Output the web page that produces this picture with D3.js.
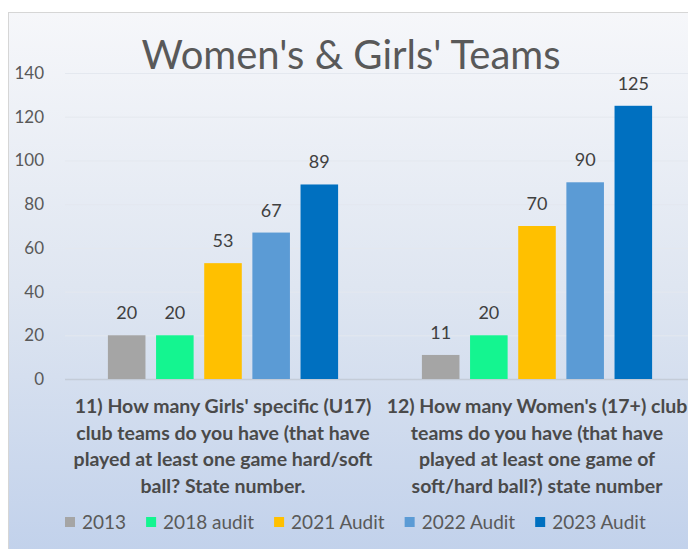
<!DOCTYPE html>
<html>
<head>
<meta charset="utf-8"/>
<title>Women's & Girls' Teams</title>
<script src="https://cdn.jsdelivr.net/npm/d3@7"></script>
<style>
  body{margin:0;background:#fff;}
  svg{display:block;font-family:Lato, "Open Sans", sans-serif;}
</style>
</head>
<body>
<svg id="chart" width="688" height="549"></svg>
<script>
// data
var questions = ["q11", "q12"];
var questionLines = [
  ["11) How many Girls' specific (U17)", "club teams do you have (that have", "played at least one game hard/soft", "ball? State number."],
  ["12) How many Women's (17+) club", "teams do you have (that have", "played at least one game of", "soft/hard ball?) state number"]
];
var seriesNames = ["2013", "2018 audit", "2021 Audit", "2022 Audit", "2023 Audit"];
var girlsU17 = [20, 20, 53, 67, 89];
var women17 = [11, 20, 70, 90, 125];
var seriesColors = ["#a5a5a5", "#14f590", "#ffc000", "#5b9bd5", "#0070c0"];
var yTicks = [0, 20, 40, 60, 80, 100, 120, 140];

var values = [girlsU17, women17];

var svg = d3.select("#chart");

// background panel
var defs = svg.append("defs");
var grad = defs.append("linearGradient").attr("id", "bg").attr("x1", 0).attr("y1", 0).attr("x2", 0).attr("y2", 1);
grad.append("stop").attr("offset", "0%").attr("stop-color", "#f6f7fa");
grad.append("stop").attr("offset", "50%").attr("stop-color", "#dfe6f1");
grad.append("stop").attr("offset", "100%").attr("stop-color", "#c1d1eb");

svg.append("rect").attr("x", 8.5).attr("y", 12.5).attr("width", 700).attr("height", 545)
  .attr("fill", "url(#bg)").attr("stroke", "#d6d6d6");

var x0 = d3.scaleBand().domain(questions).range([66, 694]);
var x1 = d3.scaleBand().domain(seriesNames).range([0, x0.bandwidth()])
  .paddingInner(0.22).paddingOuter(0.87);
var y = d3.scaleLinear().domain([0, 140]).range([379, 73]);

// gridlines
svg.append("g").selectAll("line").data(yTicks).join("line")
  .attr("x1", 65).attr("x2", 688)
  .attr("y1", function(d){ return y(d) + 0.5; }).attr("y2", function(d){ return y(d) + 0.5; })
  .attr("stroke", function(d){ return d == 0 ? "#c4ccd8" : "#e4e8ef"; })
  .attr("stroke-width", function(d){ return d == 0 ? 1.5 : 1; });

// y axis labels
var yAxis = svg.append("g").attr("transform", "translate(44,0)")
  .call(d3.axisLeft(y).tickValues(yTicks).tickSize(0).tickPadding(0));
yAxis.select(".domain").remove();
yAxis.selectAll("text").attr("font-size", 17).attr("fill", "#595959")
  .attr("font-family", "Lato, sans-serif");

// title
svg.append("text").attr("x", 351).attr("y", 69).attr("text-anchor", "middle")
  .attr("font-size", 40).attr("fill", "#595959").text("Women's & Girls' Teams");

// bars
var groups = svg.append("g").selectAll("g").data(questions).join("g")
  .attr("transform", function(d){ return "translate(" + x0(d) + ",0)"; });

groups.selectAll("rect").data(function(d, i){
    return seriesNames.map(function(s, j){ return {s: s, v: values[i][j], c: seriesColors[j]}; });
  }).join("rect")
  .attr("x", function(d){ return x1(d.s); })
  .attr("width", x1.bandwidth())
  .attr("y", function(d){ return y(d.v); })
  .attr("height", function(d){ return y(0) - y(d.v); })
  .attr("fill", function(d){ return d.c; });

groups.selectAll("text.val").data(function(d, i){
    return seriesNames.map(function(s, j){ return {s: s, v: values[i][j]}; });
  }).join("text").attr("class", "val")
  .attr("x", function(d){ return x1(d.s) + x1.bandwidth() / 2; })
  .attr("y", function(d){ return y(d.v) - 16; })
  .attr("text-anchor", "middle").attr("font-size", 18).attr("fill", "#404040")
  .text(function(d){ return d.v; });

// category labels
var catLabels = svg.append("g").selectAll("text").data(questions).join("text")
  .attr("x", function(d){ return x0(d) + x0.bandwidth() / 2; })
  .attr("text-anchor", "middle").attr("font-size", 19.5).attr("font-weight", "bold")
  .attr("fill", "#4a4a4a");
catLabels.selectAll("tspan").data(function(d, i){ return questionLines[i]; }).join("tspan")
  .attr("x", function(){ return d3.select(this.parentNode).attr("x"); })
  .attr("y", function(d, i){ return 413 + i * 26.5; })
  .text(function(d){ return d; });

// legend
var legend = svg.append("g");
var lx = 65;
seriesNames.forEach(function(s, i){
  legend.append("rect").attr("x", lx).attr("y", 517).attr("width", 10).attr("height", 10)
    .attr("fill", seriesColors[i]);
  var t = legend.append("text").attr("x", lx + 17).attr("y", 529)
    .attr("font-size", 19).attr("fill", "#595959").text(s);
  lx += 17 + t.node().getComputedTextLength() + 20;
});
</script>
</body>
</html>
